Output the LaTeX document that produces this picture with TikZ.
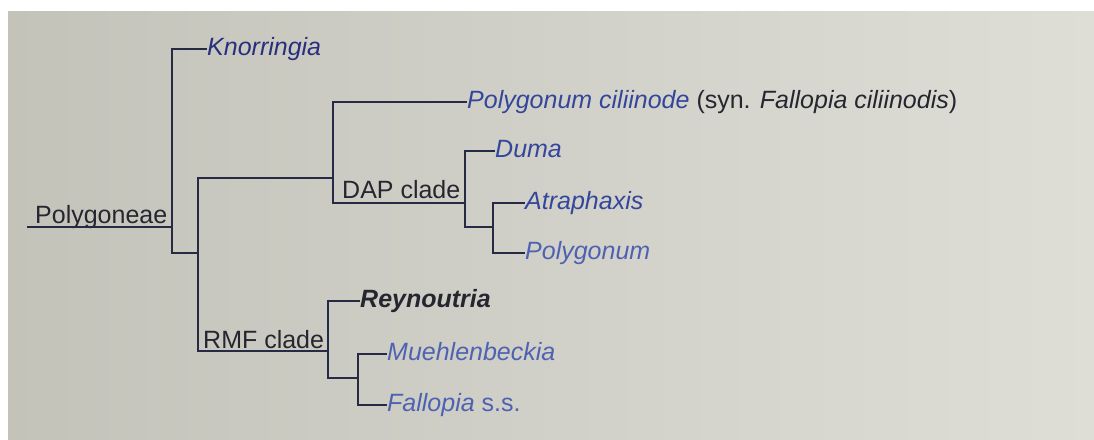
\documentclass[tikz,border=0pt]{standalone}
\usepackage{fontspec}
\setmainfont{Liberation Sans}
\usetikzlibrary{positioning}
\definecolor{screenL}{RGB}{196,195,186}
\definecolor{screenR}{RGB}{222,222,215}
\definecolor{branch}{RGB}{38,42,68}
\definecolor{taxon}{RGB}{52,70,155}
\definecolor{taxonlt}{RGB}{78,98,178}
\definecolor{visited}{RGB}{40,48,125}
\definecolor{ink}{RGB}{38,38,48}

\begin{document}
\begin{tikzpicture}[
  x=1pt,y=-1pt,
  every node/.style={font=\fontsize{25}{30}\selectfont,inner sep=0pt},
  br/.style={draw=branch,line width=1.6pt},
  taxon/.style={anchor=west,text height=18pt,text depth=5pt,text=taxon,
    font=\fontsize{25}{30}\selectfont\itshape},
  clade/.style={anchor=base west,text=ink}
]
% Hintergrund
\useasboundingbox (0,0) rectangle (1094,439);
\fill[white] (0,0) rectangle (1094,439);
\shade[left color=screenL,right color=screenR] (8,11) rectangle (1094,439);

% Wurzel
\coordinate (base) at (27,227);
\coordinate (n0) at (172,227);
\node[clade] (tribe) at (35,223) {Polygoneae};
\draw[br] (base) -- (n0);

\node[taxon,text=visited] (knor) at (207,49) {Knorringia};
\draw[br] (n0) |- (knor.west);
\coordinate (n1) at (198,253);
\draw[br] (n0) |- (n1);

% DAP
\coordinate (n2) at (333,178);
\draw[br] (n1) |- (n2);
\node[taxon] (cili) at (467,102)
  {Polygonum ciliinode {\color{ink}\upshape(syn. \itshape Fallopia ciliinodis\upshape)}};
\draw[br] (n2) |- (cili.west);
\coordinate (n3) at (465,203);
\draw[br] (n2) |- (n3);
\node[clade] (dap) at (342,198) {DAP clade};

\node[taxon] (duma) at (495,151) {Duma};
\draw[br] (n3) |- (duma.west);
\coordinate (n4) at (493,227);
\draw[br] (n3) |- (n4);
\node[taxon] (atra) at (525,203) {Atraphaxis};
\node[taxon,text=taxonlt] (poly) at (525,253) {Polygonum};
\draw[br] (n4) |- (atra.west);
\draw[br] (n4) |- (poly.west);

% RMF
\coordinate (n5) at (328,351);
\draw[br] (n1) |- (n5);
\node[clade] (rmf) at (203,348) {RMF clade};

\node[taxon,text=ink,font=\fontsize{25}{30}\selectfont\bfseries\itshape] (reyn) at (360,301) {Reynoutria};
\draw[br] (n5) |- (reyn.west);
\coordinate (n6) at (358,378);
\draw[br] (n5) |- (n6);
\node[taxon,text=taxonlt] (mueh) at (387,354) {Muehlenbeckia};
\node[taxon,text=taxonlt] (fall) at (387,405) {Fallopia\upshape\ s.s.};
\draw[br] (n6) |- (mueh.west);
\draw[br] (n6) |- (fall.west);
\end{tikzpicture}
\end{document}
